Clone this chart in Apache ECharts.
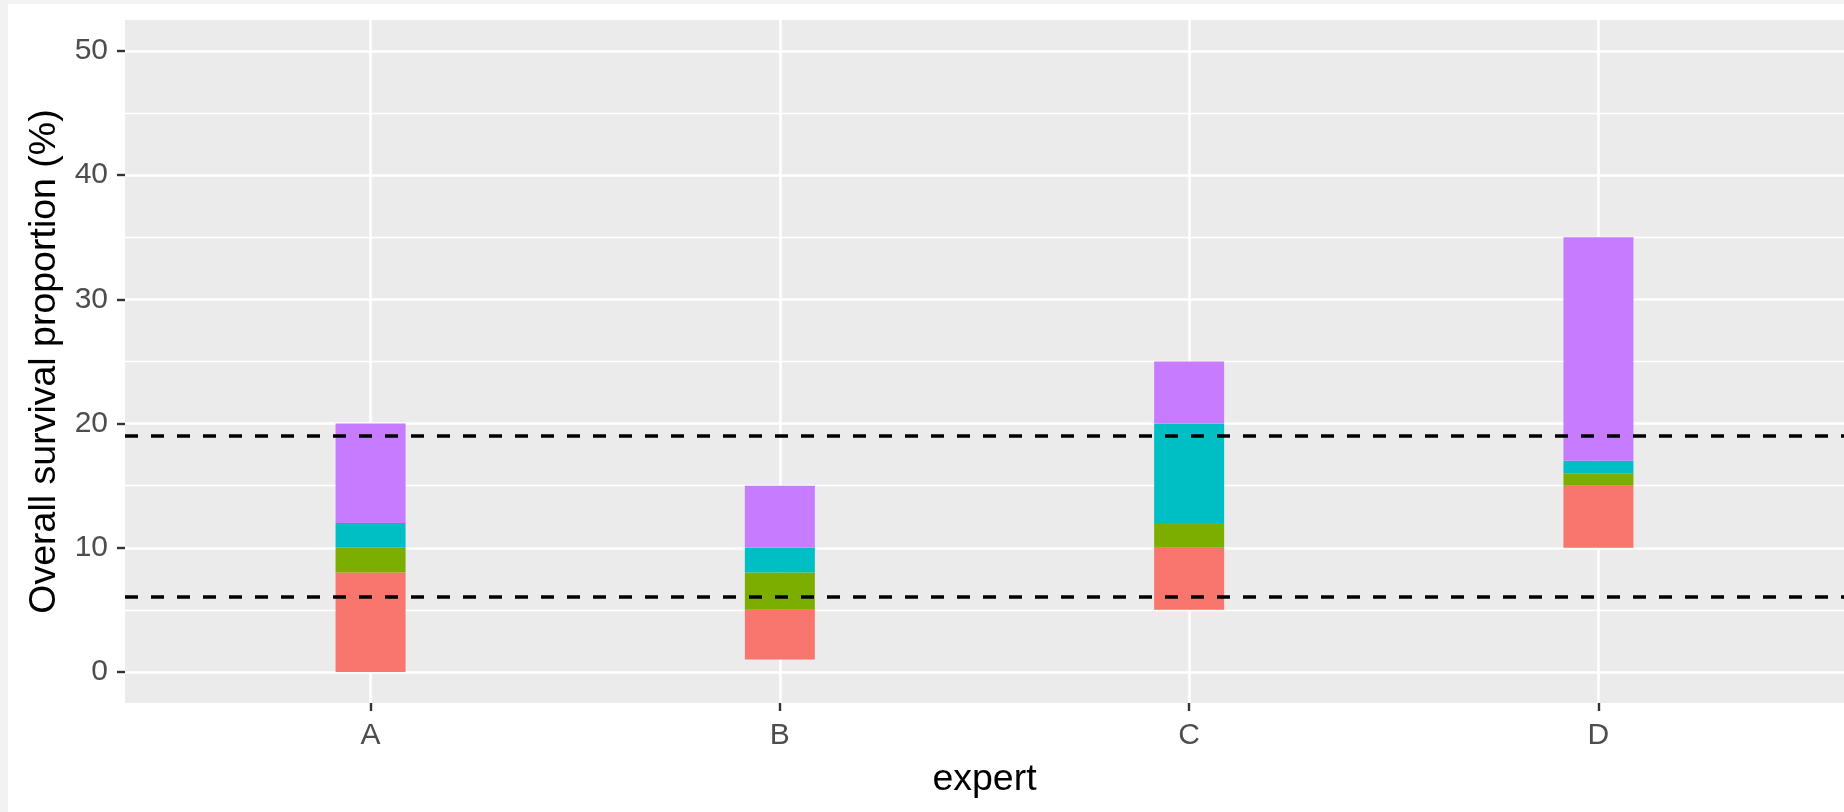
<!DOCTYPE html>
<html>
<head>
<meta charset="utf-8">
<script src="https://cdn.jsdelivr.net/npm/echarts@6/dist/echarts.min.js"></script>
<style>
html,body{margin:0;padding:0;background:#f2f2f2;}
#c{width:1844px;height:812px;}
</style>
</head>
<body>
<div id="c"></div>
<script>
// ---- data ----
const categories = ['A', 'B', 'C', 'D'];
const bottoms   = [0, 1, 5, 10];
const redTop    = [8, 5, 10, 15];
const greenTop  = [10, 8, 12, 16];
const cyanTop   = [12, 10, 20, 17];
const purpleTop = [20, 15, 25, 35];
const refLines  = [19.05, 6.05];
const yTickValues  = [0, 10, 20, 30, 40, 50];
const yMinorValues = [5, 15, 25, 35, 45];
const xTickValues  = [1, 2, 3, 4];

// ---- build ----
const FONT = 'Liberation Sans, Arial, sans-serif';
const BAR_W = 0.171; // bar width in category units

function segData(low, high) { return low.map((v, i) => [i + 1, v, high[i]]); }

const chart = echarts.init(document.getElementById('c'), null, {renderer: 'canvas'});

const gridLines = [];
yTickValues.forEach(v => gridLines.push({yAxis: v, lineStyle: {color: '#ffffff', width: 2.6, type: 'solid'}}));
yMinorValues.forEach(v => gridLines.push({yAxis: v, lineStyle: {color: '#ffffff', width: 1.3, type: 'solid'}}));
xTickValues.forEach(v => gridLines.push({xAxis: v, lineStyle: {color: '#ffffff', width: 2.6, type: 'solid'}}));

function renderSeg(params, api) {
  const x = api.value(0);
  const p0 = api.coord([x, api.value(1)]);
  const p1 = api.coord([x, api.value(2)]);
  const w = api.size([BAR_W, 0])[0];
  return {
    type: 'rect',
    shape: {x: p0[0] - w / 2, y: p1[1], width: w, height: p0[1] - p1[1]},
    style: {fill: api.visual('color')}
  };
}

const seg = (name, color, data) => ({
  name, type: 'custom', renderItem: renderSeg, data,
  encode: {x: 0, y: [1, 2]},
  itemStyle: {color}, silent: true, z: 3
});

chart.setOption({
  animation: false,
  backgroundColor: '#f2f2f2',
  graphic: [{type: 'rect', shape: {x: 8, y: 4, width: 1836, height: 808}, style: {fill: '#ffffff'}, z: -10, silent: true}],
  grid: {left: 125, top: 20, right: 0, bottom: 109, show: true, backgroundColor: '#EBEBEB', borderWidth: 0},
  xAxis: {
    type: 'value', min: 0.4, max: 4.6,
    name: 'expert', nameLocation: 'middle', nameGap: 58,
    nameTextStyle: {color: '#000', fontSize: 37.5, fontFamily: FONT},
    axisLine: {show: false, onZero: false},
    axisTick: {show: true, length: 8, lineStyle: {color: '#333333', width: 2.4}, customValues: xTickValues},
    axisLabel: {show: true, customValues: xTickValues, margin: 18, color: '#4D4D4D', fontSize: 30, fontFamily: FONT,
      formatter: v => categories[Math.round(v) - 1] || ''},
    splitLine: {show: false}
  },
  yAxis: {
    type: 'value', min: -2.5, max: 52.5,
    name: 'Overall survival proportion (%)', nameLocation: 'middle', nameGap: 59,
    nameTextStyle: {color: '#000', fontSize: 37.5, fontFamily: FONT},
    axisLine: {show: false, onZero: false},
    axisTick: {show: true, length: 8, lineStyle: {color: '#333333', width: 2.4}, customValues: yTickValues},
    axisLabel: {show: true, customValues: yTickValues, margin: 17, color: '#4D4D4D', fontSize: 30, fontFamily: FONT},
    splitLine: {show: false}
  },
  series: [
    {
      type: 'line', data: [], silent: true, z: 1,
      markLine: {silent: true, symbol: 'none', z: 1, label: {show: false}, animation: false, data: gridLines}
    },
    seg('red', '#F8766D', segData(bottoms, redTop)),
    seg('green', '#7CAE00', segData(redTop, greenTop)),
    seg('cyan', '#00BFC4', segData(greenTop, cyanTop)),
    seg('purple', '#C77CFF', segData(cyanTop, purpleTop)),
    {
      type: 'line', data: [], silent: true, z: 10,
      markLine: {silent: true, symbol: 'none', z: 10, label: {show: false}, animation: false,
        lineStyle: {color: '#000000', width: 3.5, type: [13, 13]},
        data: refLines.map(v => ({yAxis: v}))}
    }
  ]
});
</script>
</body>
</html>
